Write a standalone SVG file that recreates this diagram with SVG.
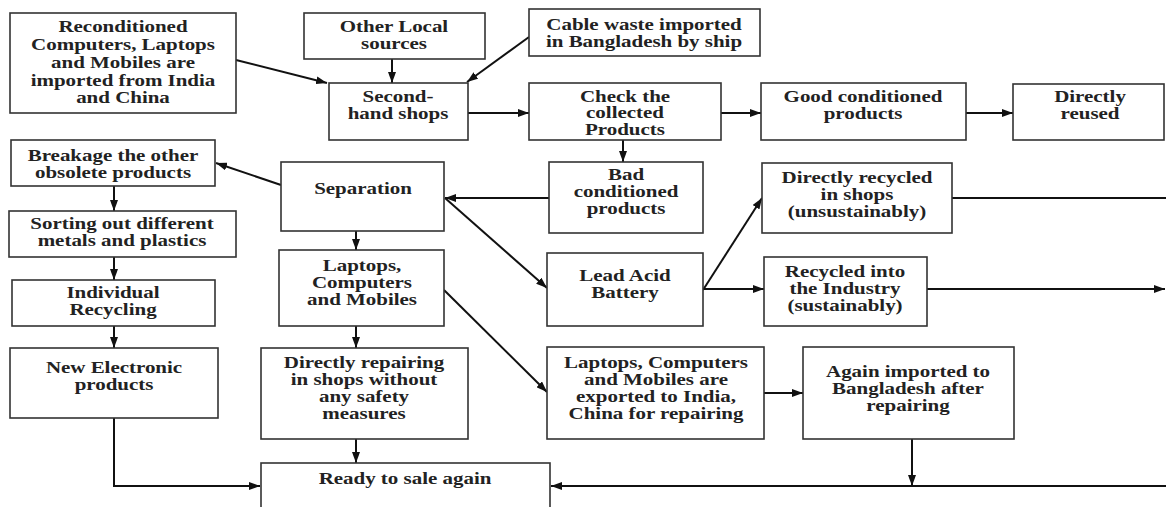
<svg xmlns="http://www.w3.org/2000/svg" width="1166" height="507" viewBox="0 0 1166 507">
<style>
.b{fill:#fff;stroke:#333;stroke-width:1.6}
.t{font-family:"Liberation Serif","Times New Roman",serif;font-weight:bold;font-size:16px;fill:#222;text-anchor:middle}
.c{fill:none;stroke:#111;stroke-width:2}
</style>
<defs>
<marker id="ah" markerWidth="11" markerHeight="8" refX="11" refY="4" orient="auto" markerUnits="userSpaceOnUse"><path d="M0,0 L11,4 L0,8 Z" fill="#111"/></marker>
</defs>
<rect width="1166" height="507" fill="#fff"/>
<g id="connectors">
<path class="c" d="M236,60 L327,83" marker-end="url(#ah)"/>
<path class="c" d="M392,59 L392,83" marker-end="url(#ah)"/>
<path class="c" d="M529,37 L467,82" marker-end="url(#ah)"/>
<path class="c" d="M468,113 L529,113" marker-end="url(#ah)"/>
<path class="c" d="M721,113 L761,113" marker-end="url(#ah)"/>
<path class="c" d="M966,113 L1013,113" marker-end="url(#ah)"/>
<path class="c" d="M623,140 L623,162" marker-end="url(#ah)"/>
<path class="c" d="M549,198 L445,198" marker-end="url(#ah)"/>
<path class="c" d="M281,185 L216,163" marker-end="url(#ah)"/>
<path class="c" d="M445,198 L547,288" marker-end="url(#ah)"/>
<path class="c" d="M703,290 L762,198" marker-end="url(#ah)"/>
<path class="c" d="M703,289 L764,289" marker-end="url(#ah)"/>
<path class="c" d="M952,198 L1166,198"/>
<path class="c" d="M927,289 L1165,289" marker-end="url(#ah)"/>
<path class="c" d="M114,186 L114,211" marker-end="url(#ah)"/>
<path class="c" d="M114,257 L114,280" marker-end="url(#ah)"/>
<path class="c" d="M114,326 L114,348" marker-end="url(#ah)"/>
<path class="c" d="M356,231 L356,250" marker-end="url(#ah)"/>
<path class="c" d="M356,326 L356,348" marker-end="url(#ah)"/>
<path class="c" d="M444,290 L547,392" marker-end="url(#ah)"/>
<path class="c" d="M764,393 L803,393" marker-end="url(#ah)"/>
<path class="c" d="M356,439 L356,463" marker-end="url(#ah)"/>
<path class="c" d="M114,418 L114,486 L260,486" marker-end="url(#ah)"/>
<path class="c" d="M912,439 L912,486" marker-end="url(#ah)"/>
<path class="c" d="M1166,486 L551,486" marker-end="url(#ah)"/>
</g>
<g id="n-reconditioned"><rect class="b" x="10" y="13" width="226" height="100"/>
<text class="t" transform="translate(123,0) scale(1.31,1)"><tspan x="0" y="32">Reconditioned</tspan><tspan x="0" y="50">Computers, Laptops</tspan><tspan x="0" y="68">and Mobiles are</tspan><tspan x="0" y="86">imported from India</tspan><tspan x="0" y="103">and China</tspan></text></g>
<g id="n-local"><rect class="b" x="304" y="13" width="181" height="46"/>
<text class="t" transform="translate(394,0) scale(1.31,1)"><tspan x="0" y="32">Other Local</tspan><tspan x="0" y="49">sources</tspan></text></g>
<g id="n-cable"><rect class="b" x="529" y="9" width="231" height="47"/>
<text class="t" transform="translate(644,0) scale(1.31,1)"><tspan x="0" y="30">Cable waste imported</tspan><tspan x="0" y="47">in Bangladesh by ship</tspan></text></g>
<g id="n-secondhand"><rect class="b" x="329" y="83" width="139" height="57"/>
<text class="t" transform="translate(398,0) scale(1.31,1)"><tspan x="0" y="102">Second-</tspan><tspan x="0" y="119">hand shops</tspan></text></g>
<g id="n-check"><rect class="b" x="529" y="83" width="192" height="57"/>
<text class="t" transform="translate(625,0) scale(1.31,1)"><tspan x="0" y="102">Check the</tspan><tspan x="0" y="118.5">collected</tspan><tspan x="0" y="135">Products</tspan></text></g>
<g id="n-good"><rect class="b" x="761" y="83" width="205" height="57"/>
<text class="t" transform="translate(863,0) scale(1.31,1)"><tspan x="0" y="102">Good conditioned</tspan><tspan x="0" y="119">products</tspan></text></g>
<g id="n-reused"><rect class="b" x="1013" y="84" width="151" height="56"/>
<text class="t" transform="translate(1090,0) scale(1.31,1)"><tspan x="0" y="102">Directly</tspan><tspan x="0" y="119">reused</tspan></text></g>
<g id="n-bad"><rect class="b" x="549" y="162" width="154" height="71"/>
<text class="t" transform="translate(626,0) scale(1.31,1)"><tspan x="0" y="180">Bad</tspan><tspan x="0" y="197">conditioned</tspan><tspan x="0" y="214">products</tspan></text></g>
<g id="n-separation"><rect class="b" x="281" y="162" width="163" height="69"/>
<text class="t" transform="translate(363,0) scale(1.31,1)"><tspan x="0" y="194">Separation</tspan></text></g>
<g id="n-breakage"><rect class="b" x="11" y="140" width="204" height="46"/>
<text class="t" transform="translate(113,0) scale(1.31,1)"><tspan x="0" y="161">Breakage the other</tspan><tspan x="0" y="178">obsolete products</tspan></text></g>
<g id="n-sorting"><rect class="b" x="9" y="211" width="227" height="46"/>
<text class="t" transform="translate(122,0) scale(1.31,1)"><tspan x="0" y="229">Sorting out different</tspan><tspan x="0" y="246">metals and plastics</tspan></text></g>
<g id="n-individual"><rect class="b" x="12" y="280" width="203" height="46"/>
<text class="t" transform="translate(113,0) scale(1.31,1)"><tspan x="0" y="298">Individual</tspan><tspan x="0" y="315">Recycling</tspan></text></g>
<g id="n-laptops"><rect class="b" x="279" y="250" width="165" height="76"/>
<text class="t" transform="translate(362,0) scale(1.31,1)"><tspan x="0" y="271">Laptops,</tspan><tspan x="0" y="288">Computers</tspan><tspan x="0" y="305">and Mobiles</tspan></text></g>
<g id="n-battery"><rect class="b" x="547" y="253" width="156" height="73"/>
<text class="t" transform="translate(625,0) scale(1.31,1)"><tspan x="0" y="281">Lead Acid</tspan><tspan x="0" y="298">Battery</tspan></text></g>
<g id="n-recycled-shops"><rect class="b" x="762" y="163" width="190" height="70"/>
<text class="t" transform="translate(857,0) scale(1.31,1)"><tspan x="0" y="183">Directly recycled</tspan><tspan x="0" y="200">in shops</tspan><tspan x="0" y="217">(unsustainably)</tspan></text></g>
<g id="n-recycled-industry"><rect class="b" x="764" y="257" width="163" height="69"/>
<text class="t" transform="translate(845,0) scale(1.31,1)"><tspan x="0" y="277">Recycled into</tspan><tspan x="0" y="294">the Industry</tspan><tspan x="0" y="311">(sustainably)</tspan></text></g>
<g id="n-new"><rect class="b" x="10" y="348" width="208" height="70"/>
<text class="t" transform="translate(114,0) scale(1.31,1)"><tspan x="0" y="373">New Electronic</tspan><tspan x="0" y="390">products</tspan></text></g>
<g id="n-repairing"><rect class="b" x="261" y="348" width="207" height="91"/>
<text class="t" transform="translate(364,0) scale(1.31,1)"><tspan x="0" y="368">Directly repairing</tspan><tspan x="0" y="385">in shops without</tspan><tspan x="0" y="402">any safety</tspan><tspan x="0" y="419">measures</tspan></text></g>
<g id="n-exported"><rect class="b" x="547" y="347" width="217" height="92"/>
<text class="t" transform="translate(656,0) scale(1.31,1)"><tspan x="0" y="368">Laptops, Computers</tspan><tspan x="0" y="385">and Mobiles are</tspan><tspan x="0" y="402">exported to India,</tspan><tspan x="0" y="419">China for repairing</tspan></text></g>
<g id="n-again"><rect class="b" x="803" y="347" width="211" height="92"/>
<text class="t" transform="translate(908,0) scale(1.31,1)"><tspan x="0" y="377">Again imported to</tspan><tspan x="0" y="394">Bangladesh after</tspan><tspan x="0" y="411">repairing</tspan></text></g>
<g id="n-ready"><rect class="b" x="261" y="463" width="289" height="60"/>
<text class="t" transform="translate(405,0) scale(1.31,1)"><tspan x="0" y="484">Ready to sale again</tspan></text></g>
</svg>
